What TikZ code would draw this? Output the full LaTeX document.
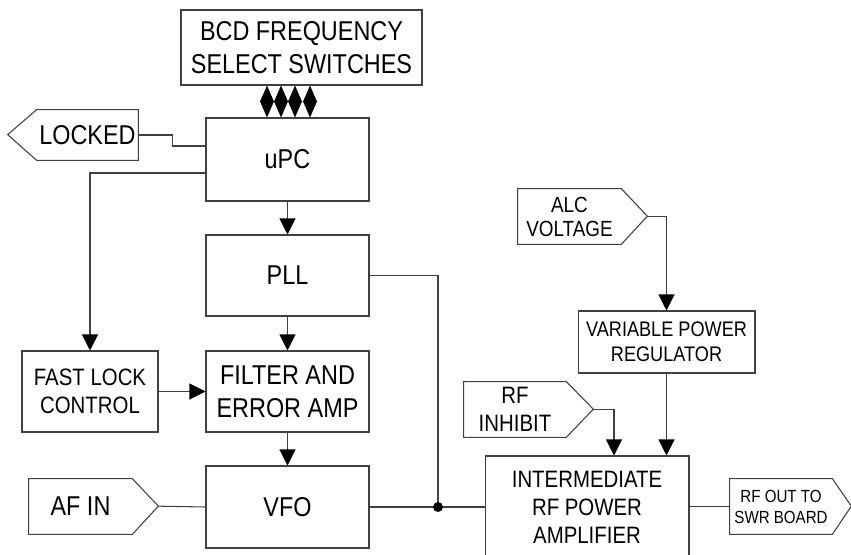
\documentclass[tikz,border=0pt]{standalone}
\usepackage{fontspec}
\setmainfont{Liberation Sans}[FakeStretch=0.86]
\usetikzlibrary{arrows.meta}
\newcommand{\txtbig}{\fontsize{15.5}{19}\selectfont}
\newcommand{\txtmid}{\fontsize{13.5}{16}\selectfont}
\newcommand{\txtreg}{\fontsize{12}{14.2}\selectfont}
\newcommand{\txtalc}{\fontsize{12.5}{13.7}\selectfont}
\newcommand{\txtout}{\fontsize{10}{12}\selectfont}
\begin{document}
\begin{tikzpicture}[x=0.02cm,y=-0.02cm,
  >={Triangle[length=0.32cm,width=0.32cm,color=black]},
  wire/.style={draw=black!75,line width=0.6pt},
  blk/.style={wire,rectangle,inner sep=0pt,align=center},
  lbl/.style={rectangle,inner sep=0pt,align=center}]
  \clip (0,0) rectangle (851,554);
  % blocks
  \node[blk,minimum width=4.82cm,minimum height=1.5cm,font=\txtbig] (bcd) at (301.5,47.5) {BCD FREQUENCY\\SELECT SWITCHES};
  \node[blk,minimum width=3.26cm,minimum height=1.66cm,font=\txtbig] (upc) at (287.5,159.5) {uPC};
  \node[blk,minimum width=3.26cm,minimum height=1.62cm,font=\txtbig] (pll) at (287.5,275.5) {PLL};
  \node[blk,minimum width=3.26cm,minimum height=1.62cm,font=\txtbig] (filt) at (287.5,391.5) {FILTER AND\\ERROR AMP};
  \node[blk,minimum width=3.26cm,minimum height=1.64cm,font=\txtbig] (vfo) at (287.5,507) {VFO};
  \node[blk,minimum width=2.72cm,minimum height=1.62cm,font=\txtmid] (fast) at (90,391.5) {FAST LOCK\\CONTROL};
  \node[blk,minimum width=3.54cm,minimum height=1.24cm,font=\txtreg] (reg) at (666.5,342) {VARIABLE POWER\\REGULATOR};
  \node[blk,minimum width=4.08cm,minimum height=2.04cm,font=\txtmid] (amp) at (587,507) {INTERMEDIATE\\RF POWER\\AMPLIFIER};
  % tags
  \node[lbl,minimum width=2.02cm,minimum height=1cm,font=\txtbig] (locked) at (87.5,135) {LOCKED};
  \node[lbl,minimum width=2.06cm,minimum height=1.1cm,font=\txtbig] (afin) at (80.5,506.5) {AF IN};
  \node[lbl,minimum width=2.06cm,minimum height=1.1cm,font=\txtalc] (alc) at (569.5,216.5) {ALC\\VOLTAGE};
  \node[lbl,minimum width=2.04cm,minimum height=1.1cm,font=\txtmid] (inh) at (515,409.5) {RF\\INHIBIT};
  \node[lbl,minimum width=2.04cm,minimum height=1.1cm,font=\txtout] (rfout) at (781,506.5) {RF OUT TO\\SWR BOARD};
  \draw[wire] (locked.north east) -- (locked.north west) -- ++(-29,25) -- (locked.south west) -- (locked.south east) -- cycle;
  \draw[wire] (afin.north west) -- (afin.north east) -- ++(26,27.5) coordinate (aftip) -- (afin.south east) -- (afin.south west) -- cycle;
  \draw[wire] (alc.north west) -- (alc.north east) -- ++(26,27.5) coordinate (alctip) -- (alc.south east) -- (alc.south west) -- cycle;
  \draw[wire] (inh.north west) -- (inh.north east) -- ++(27,27.5) coordinate (inhtip) -- (inh.south east) -- (inh.south west) -- cycle;
  \draw[wire] (rfout.north west) -- (rfout.north east) -- ++(19,27.5) -- (rfout.south east) -- (rfout.south west) -- cycle;
  % switch bus
  \foreach \bx in {267,281,295,310}
    \draw[wire,{Triangle[length=0.33cm,width=0.28cm,color=black]}-{Triangle[length=0.33cm,width=0.28cm,color=black]}] (bcd.south -| \bx,0) -- (upc.north -| \bx,0);
  % connections
  \draw[wire] (locked.east) -- ++(34,0) |- (upc.west |- 0,146);
  \draw[wire,->] (upc.west |- 0,173) -| (fast.north);
  \draw[wire,->] (upc) -- (pll);
  \draw[wire,->] (pll) -- (filt);
  \draw[wire,->] (filt) -- (vfo);
  \draw[wire,->] (fast) -- (filt);
  \draw[wire] (aftip) -- (vfo.west);
  \coordinate (jn) at (438,507);
  \draw[wire] (pll.east) -| (jn);
  \draw[wire] (vfo.east) -- (amp.west);
  \fill (jn) circle (0.1cm);
  \draw[wire,->] (alctip) -| (reg.north);
  \draw[wire,->] (reg) -- (reg.south |- amp.north);
  \draw[wire,->] (inhtip) -| ([xshift=0.54cm]amp.north);
  \draw[wire] (amp.east |- rfout.west) -- (rfout.west);
\end{tikzpicture}
\end{document}
